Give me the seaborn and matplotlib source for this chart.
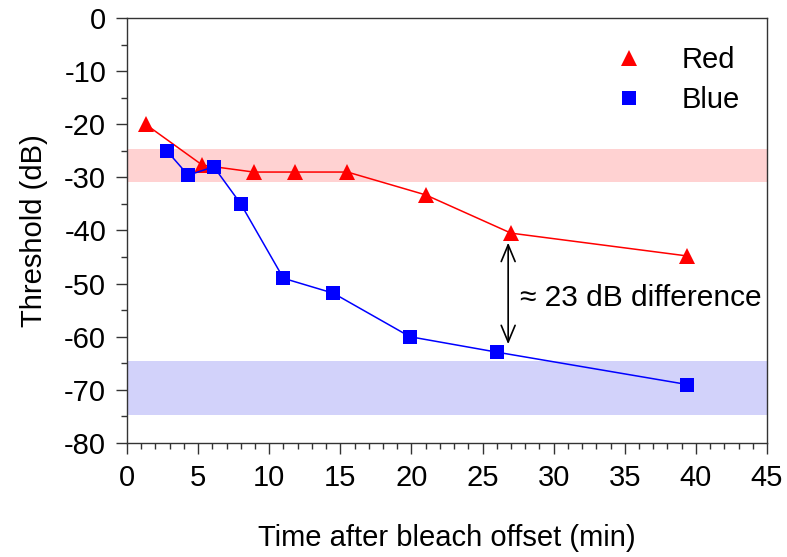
import seaborn as sns
import pandas as pd
import matplotlib
matplotlib.use("Agg")
from matplotlib import pyplot as plt
from matplotlib.lines import Line2D
from matplotlib.ticker import MultipleLocator

# data
red_time = [1.3, 5.3, 8.9, 11.8, 15.5, 21.0, 27.0, 39.4]
red_thresh = [-20, -27.7, -29, -29, -29, -33.3, -40.5, -44.8]
blue_time = [2.8, 4.3, 6.1, 8.0, 11.0, 14.5, 19.9, 26.0, 39.4]
blue_thresh = [-25, -29.6, -28, -35, -49, -51.8, -60, -62.9, -69]
red_band = (-30.9, -24.7)
blue_band = (-74.8, -64.6)

red = pd.DataFrame({"time": red_time, "thresh": red_thresh})
blue = pd.DataFrame({"time": blue_time, "thresh": blue_thresh})

sns.set_style("ticks")
plt.rcParams["font.family"] = ["Liberation Sans", "DejaVu Sans"]
plt.rcParams["axes.unicode_minus"] = False
plt.rcParams["text.color"] = "black"
plt.rcParams["axes.labelcolor"] = "black"
plt.rcParams["xtick.color"] = "#333333"
plt.rcParams["ytick.color"] = "#333333"
plt.rcParams["xtick.labelcolor"] = "black"
plt.rcParams["ytick.labelcolor"] = "black"

fs = 21

fig = plt.figure(figsize=(7.87, 5.57), dpi=100)
ax = fig.add_axes([0.1614, 0.2047, 0.8132, 0.763])

ax.axhspan(*red_band, color="#ffd2d2", lw=0, zorder=0)
ax.axhspan(*blue_band, color="#d2d2fa", lw=0, zorder=0)

sns.lineplot(data=red, x="time", y="thresh", color="red", lw=1.1,
             marker="^", markersize=11, markeredgewidth=0, ax=ax, zorder=3)
sns.lineplot(data=blue, x="time", y="thresh", color="blue", lw=1.1,
             marker="s", markersize=9.5, markeredgewidth=0, ax=ax, zorder=3)

ax.annotate("", xy=(26.8, -42.3), xytext=(26.8, -61.4),
            arrowprops=dict(arrowstyle="<->,head_length=0.6,head_width=0.25",
                            color="black", lw=1.2, mutation_scale=20,
                            shrinkA=0, shrinkB=0))
ax.text(27.6, -52.8, "\u2248 23 dB difference", fontsize=fs + 0.5, va="center")

ax.set_xlim(0, 45)
ax.set_ylim(-80, 0)
ax.xaxis.set_major_locator(MultipleLocator(5))
ax.xaxis.set_minor_locator(MultipleLocator(1))
ax.yaxis.set_major_locator(MultipleLocator(10))
ax.yaxis.set_minor_locator(MultipleLocator(5))
ax.tick_params(which="major", length=8, width=1, labelsize=fs, direction="out", pad=7)
ax.tick_params(which="minor", length=4, width=1, direction="out")
for s in ax.spines.values():
    s.set_visible(True)
    s.set_color("#333333")
    s.set_linewidth(1)

ax.set_xlabel("Time after bleach offset (min)", fontsize=fs, labelpad=23)
ax.set_ylabel("Threshold (dB)", fontsize=fs, labelpad=12)

handles = [Line2D([], [], color="red", marker="^", ls="none", markersize=11, markeredgewidth=0),
           Line2D([], [], color="blue", marker="s", ls="none", markersize=9.5, markeredgewidth=0)]
ax.legend(handles, ["Red", "Blue"], loc="upper right", bbox_to_anchor=(0.998, 0.995),
          frameon=False, fontsize=fs, handletextpad=0.8, labelspacing=0.4)

fig.savefig("out.png", dpi=100)
